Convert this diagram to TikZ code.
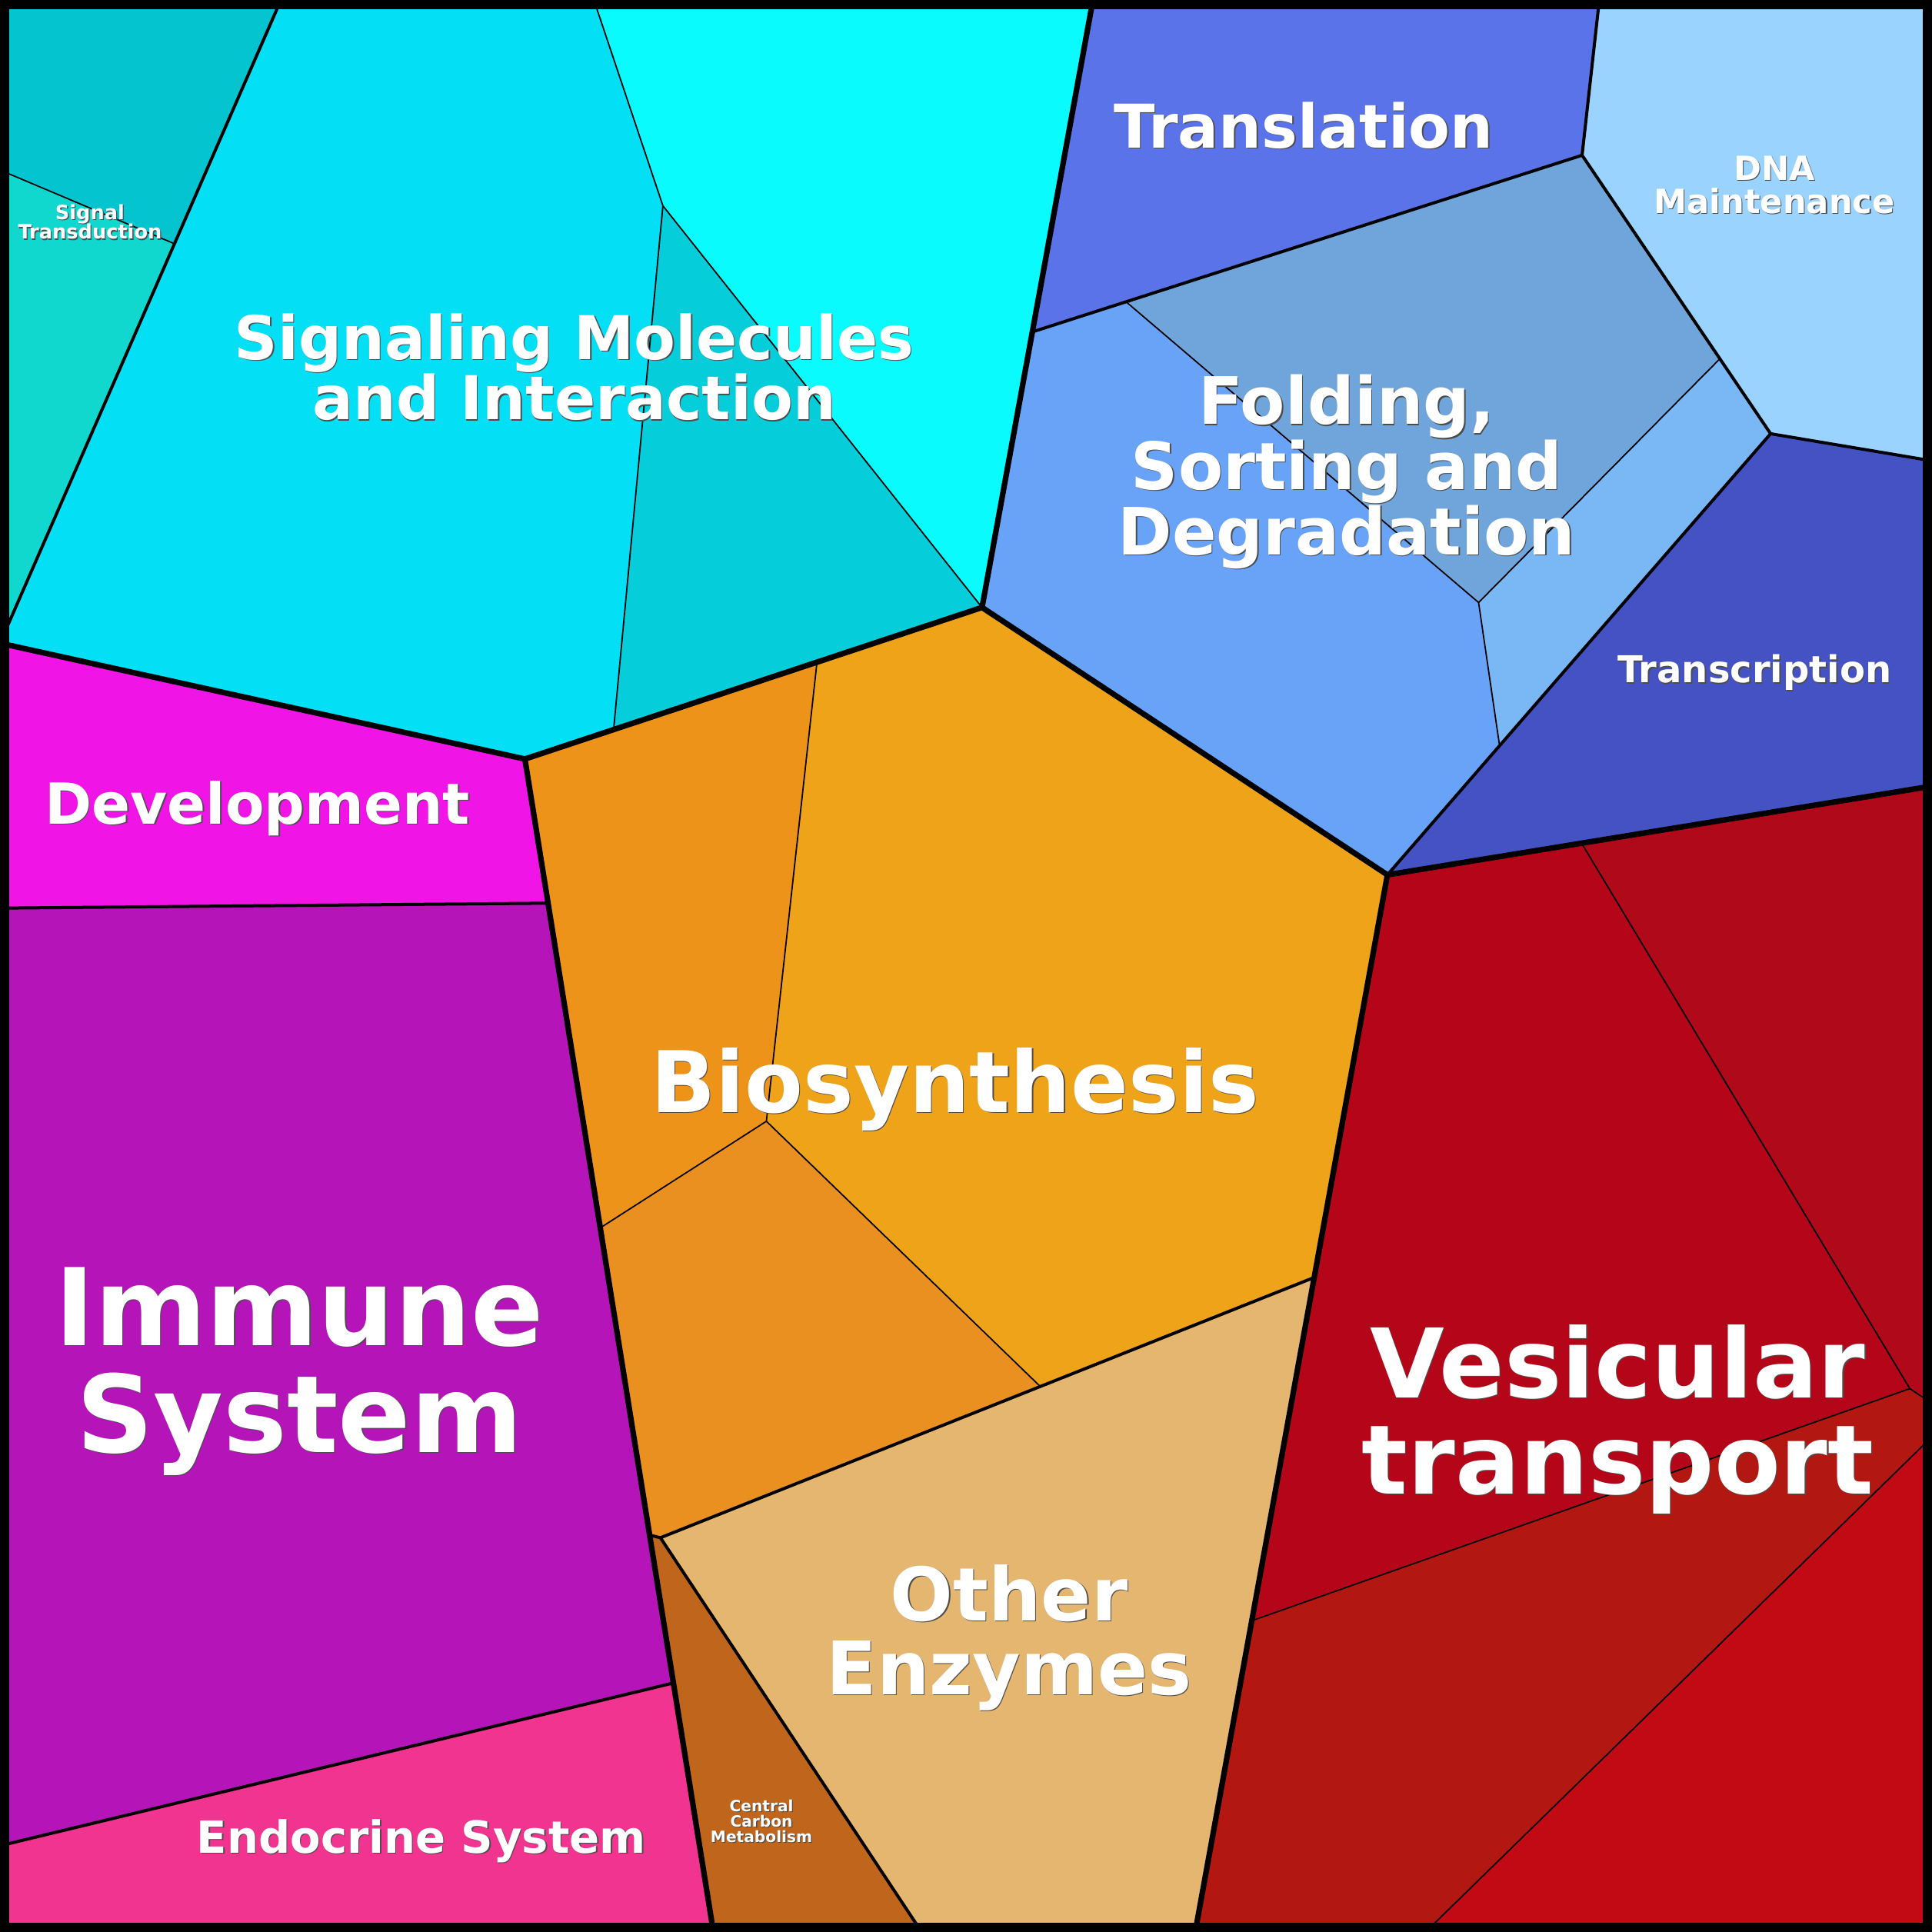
\documentclass[tikz,border=0pt]{standalone}
\usepackage{fontspec}
\setmainfont{DejaVu Sans}
\usepackage{tikz}

\definecolor{sigtop}{HTML}{03C4CF}
\definecolor{sigbot}{HTML}{10D8CF}
\definecolor{molbig}{HTML}{03DFF4}
\definecolor{moltop}{HTML}{09FBFE}
\definecolor{molbot}{HTML}{05CDDA}
\definecolor{transl}{HTML}{5B73E8}
\definecolor{dnamnt}{HTML}{99D3FE}
\definecolor{transc}{HTML}{4552C4}
\definecolor{foldtop}{HTML}{6FA5DA}
\definecolor{foldleft}{HTML}{68A3F8}
\definecolor{foldright}{HTML}{7AB8F5}
\definecolor{develop}{HTML}{F015E6}
\definecolor{immune}{HTML}{B414B8}
\definecolor{endocr}{HTML}{F0348F}
\definecolor{bioleft}{HTML}{EE9319}
\definecolor{biomain}{HTML}{EEA319}
\definecolor{biolow}{HTML}{EA9020}
\definecolor{otherenz}{HTML}{E4B670}
\definecolor{carbon}{HTML}{C0651C}
\definecolor{vesmain}{HTML}{B40618}
\definecolor{vestop}{HTML}{B00A1A}
\definecolor{vesmid}{HTML}{B31712}
\definecolor{veslow}{HTML}{C20A15}

% label with a dark drop shadow: name, position, size, text
\newcommand{\labelcell}[4]{%
  \node[lbl, text=black!70, font=\bfseries\fontsize{#3}{#3}\selectfont,
        xshift=0.8pt, yshift=-0.8pt] at (#2) {#4};
  \node[lbl, font=\bfseries\fontsize{#3}{#3}\selectfont] (#1) at (#2) {#4};}

\begin{document}
\begin{tikzpicture}[x=1pt,y=-1pt,
    lvlone/.style={line width=4.5pt, line cap=round, line join=round},
    lvltwo/.style={line width=2.5pt, line cap=round},
    lvlthree/.style={line width=1.1pt, line cap=round},
    lbl/.style={text=white, align=center, inner sep=0pt}]
    \useasboundingbox (0,0) rectangle (1568,1568);

    % corners and main junctions
    \coordinate (TL) at (0,0);
    \coordinate (TR) at (1568,0);
    \coordinate (BR) at (1568,1568);
    \coordinate (BL) at (0,1568);
    \coordinate (a) at (0,522);
    \coordinate (b) at (426,616);
    \coordinate (c) at (797,493);
    \coordinate (d) at (887,0);
    \coordinate (e) at (1126,710);
    \coordinate (f) at (1568,638);
    \coordinate (g) at (970,1568);
    \coordinate (h) at (579,1568);
    % environmental
    \coordinate (st1) at (228,0);
    \coordinate (st2) at (142,198);
    \coordinate (st3) at (0,138);
    \coordinate (sm1) at (482,0);
    \coordinate (sm2) at (538,167);
    \coordinate (sm3) at (498,592);
    % genetic
    \coordinate (tr1) at (1298,0);
    \coordinate (tr2) at (1284,126);
    \coordinate (tr3) at (839,269);
    \coordinate (dn1) at (1437,352);
    \coordinate (dn2) at (1568,374);
    \coordinate (fo1) at (914,245);
    \coordinate (fo2) at (1396,291);
    \coordinate (fo3) at (1200,489);
    \coordinate (fo4) at (1217,605);
    % organismal
    \coordinate (dv1) at (444,733);
    \coordinate (dv2) at (0,737);
    \coordinate (im1) at (546,1366);
    \coordinate (im2) at (0,1498);
    % metabolism
    \coordinate (bs1) at (663,538);
    \coordinate (bs2) at (622,910);
    \coordinate (bs3) at (488,996);
    \coordinate (bs4) at (844,1125);
    \coordinate (bs5) at (1066,1037);
    \coordinate (oe1) at (536,1248);
    \coordinate (cc1) at (528,1246);
    \coordinate (oe2) at (748,1568);
    % cellular
    \coordinate (vt1) at (1284,685);
    \coordinate (vt2) at (1550,1127);
    \coordinate (vt3) at (1568,1139);
    \coordinate (vt4) at (1017,1315);
    \coordinate (vt5) at (1568,1166);
    \coordinate (vt6) at (1157,1568);

    % cells
    \fill[sigtop] (TL) -- (st1) -- (st2) -- (st3) -- cycle;
    \fill[sigbot] (st3) -- (st2) -- (a) -- cycle;
    \fill[molbig] (st1) -- (sm1) -- (sm2) -- (sm3) -- (b) -- (a) -- cycle;
    \fill[moltop] (sm1) -- (d) -- (c) -- (sm2) -- cycle;
    \fill[molbot] (sm2) -- (c) -- (sm3) -- cycle;
    \fill[transl] (d) -- (tr1) -- (tr2) -- (tr3) -- cycle;
    \fill[dnamnt] (tr1) -- (TR) -- (dn2) -- (dn1) -- (tr2) -- cycle;
    \fill[transc] (dn1) -- (dn2) -- (f) -- (e) -- cycle;
    \fill[foldtop] (fo1) -- (tr2) -- (fo2) -- (fo3) -- cycle;
    \fill[foldleft] (tr3) -- (fo1) -- (fo3) -- (fo4) -- (e) -- (c) -- cycle;
    \fill[foldright] (fo2) -- (dn1) -- (fo4) -- (fo3) -- cycle;
    \fill[develop] (a) -- (b) -- (dv1) -- (dv2) -- cycle;
    \fill[immune] (dv2) -- (dv1) -- (im1) -- (im2) -- cycle;
    \fill[endocr] (im2) -- (im1) -- (h) -- (BL) -- cycle;
    \fill[bioleft] (b) -- (bs1) -- (bs2) -- (bs3) -- cycle;
    \fill[biomain] (bs1) -- (c) -- (e) -- (bs5) -- (bs4) -- (bs2) -- cycle;
    \fill[biolow] (bs3) -- (bs2) -- (bs4) -- (oe1) -- (cc1) -- cycle;
    \fill[otherenz] (oe1) -- (bs5) -- (g) -- (oe2) -- cycle;
    \fill[carbon] (cc1) -- (oe1) -- (oe2) -- (h) -- cycle;
    \fill[vesmain] (e) -- (vt1) -- (vt2) -- (vt4) -- cycle;
    \fill[vestop] (vt1) -- (f) -- (vt3) -- (vt2) -- cycle;
    \fill[vesmid] (vt4) -- (vt2) -- (vt3) -- (vt5) -- (vt6) -- (g) -- cycle;
    \fill[veslow] (vt5) -- (BR) -- (vt6) -- cycle;

    % inner borders
    \draw[lvlthree]
        (st3) -- (st2)
        (sm1) -- (sm2) -- (c)
        (sm2) -- (sm3)
        (fo1) -- (fo3) -- (fo2)
        (fo3) -- (fo4)
        (bs1) -- (bs2) -- (bs3)
        (bs2) -- (bs4)
        (vt1) -- (vt2) -- (vt3)
        (vt2) -- (vt4)
        (vt5) -- (vt6);
    \draw[lvltwo]
        (st1) -- (a)
        (dv2) -- (dv1)
        (im2) -- (im1)
        (tr3) -- (tr2) -- (tr1)
        (tr2) -- (dn1) -- (dn2)
        (dn1) -- (e)
        (cc1) -- (oe1) -- (bs5)
        (oe1) -- (oe2);
    \draw[lvlone]
        (a) -- (b) -- (c) -- (d)
        (b) -- (h)
        (c) -- (e) -- (f)
        (e) -- (g);
    \draw[line width=7.5pt] (3.75,3.75) rectangle (1564.25,1564.25);

    % labels
    \labelcell{sigtr}{73,180}{16}{Signal\\Transduction}
    \labelcell{sigmol}{466,298}{49}{Signaling Molecules\\and Interaction}
    \labelcell{transl}{1058,102}{49}{Translation}
    \labelcell{dna}{1440,150}{27}{DNA\\Maintenance}
    \labelcell{fold}{1093,383}{53}{Folding,\\Sorting and\\Degradation}
    \labelcell{transc}{1424,546}{30}{Transcription}
    \labelcell{devel}{209,656}{46}{Development}
    \labelcell{biosyn}{775,884}{69}{Biosynthesis}
    \labelcell{immun}{243,1113}{87}{Immune\\System}
    \labelcell{vesic}{1313,1152}{78}{Vesicular\\transport}
    \labelcell{other}{819,1329}{60}{Other\\Enzymes}
    \labelcell{endo}{342,1494}{36}{Endocrine System}
    \labelcell{carb}{618,1478}{12.6}{Central\\Carbon\\Metabolism}
\end{tikzpicture}
\end{document}
